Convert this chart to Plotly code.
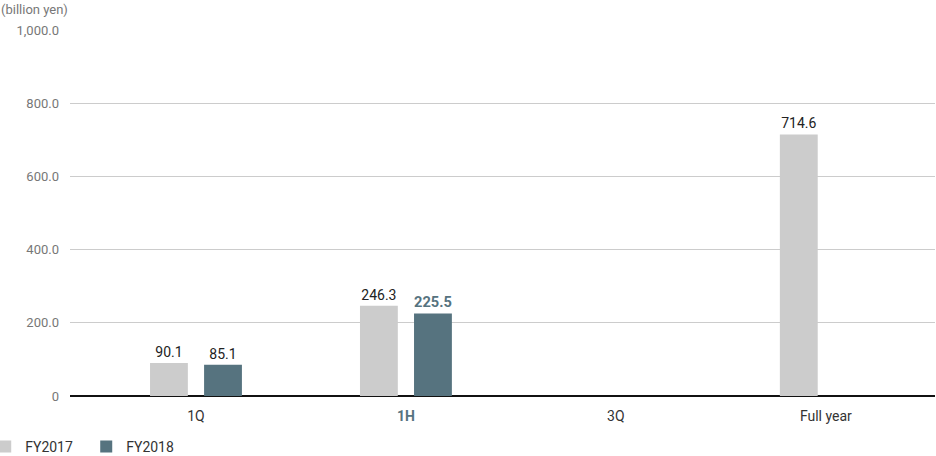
import plotly.graph_objects as go

categories = ["1Q", "1H", "3Q", "Full year"]
fy2017 = [90.1, 246.3, None, 714.6]
fy2018 = [85.1, 225.5, None, None]
series_names = ["FY2017", "FY2018"]
y_tickvals = [0, 200, 400, 600, 800, 1000]
y_ticktext = ["0", "200.0", "400.0", "600.0", "800.0", "1,000.0"]

c17 = "#cccccc"
c18 = "#56737f"
font_family = "Roboto, 'DejaVu Sans', sans-serif"

def fmt(v):
    return "" if v is None else f"{v:.1f}"

x_idx = list(range(len(categories)))

fig = go.Figure()
fig.add_trace(go.Bar(
    x=x_idx, y=fy2017, name=series_names[0],
    marker=dict(color=c17, line=dict(width=0)),
    text=[fmt(v) for v in fy2017], textposition="outside",
    textfont=dict(size=14, color="#222222", family=font_family),
    cliponaxis=False,
))
text18 = [fmt(v) for v in fy2018]
text18_colors = ["#222222", c18, "#222222", "#222222"]
text18_sizes = [14, 16, 14, 14]
text18 = [f"<b>{t}</b>" if i == 1 and t else t for i, t in enumerate(text18)]
fig.add_trace(go.Bar(
    x=x_idx, y=fy2018, name=series_names[1],
    marker=dict(color=c18, line=dict(width=0)),
    text=text18, textposition="outside",
    textfont=dict(size=text18_sizes, color=text18_colors, family=font_family),
    cliponaxis=False,
))

tick_labels = [f"<b><span style='color:{c18}'>{c}</span></b>" if c == "1H" else c for c in categories]

fig.update_layout(
    width=936, height=456,
    margin=dict(l=70, r=1, t=30, b=60, autoexpand=False),
    paper_bgcolor="white", plot_bgcolor="white",
    barmode="group", bargap=0.485, bargroupgap=0.3,
    font=dict(family=font_family, color="#333333"),
    showlegend=True,
    legend=dict(orientation="h", xref="paper", yref="container",
                x=-0.098, xanchor="left", y=0.02, yanchor="middle",
                font=dict(size=14, color="#333333"),
                traceorder="normal", tracegroupgap=0, itemwidth=30,
                entrywidth=56),
    xaxis=dict(
        tickmode="array", tickvals=x_idx, ticktext=tick_labels,
        range=[-0.6, 3.52], showgrid=False, ticks="",
        tickfont=dict(size=14, color="#333333"),
        showline=False, zeroline=False, ticklabelstandoff=10,
    ),
    yaxis=dict(
        range=[0, 1000], tickvals=y_tickvals, ticktext=y_ticktext,
        showgrid=True, gridcolor="#cccccc", gridwidth=1,
        zeroline=True, zerolinecolor="#111111", zerolinewidth=2,
        tickfont=dict(size=13, color="#777777"), ticks="",
        ticklabelstandoff=10,
    ),
    annotations=[dict(
        text="(billion yen)", xref="paper", yref="paper", x=-0.082, y=1.055,
        xanchor="left", yanchor="middle", showarrow=False,
        font=dict(size=13, color="#777777"),
    )],
)

fig.write_html("out.html", config={"displayModeBar": False},
               post_script="document.body.style.margin='0px';document.body.style.overflow='hidden';")
